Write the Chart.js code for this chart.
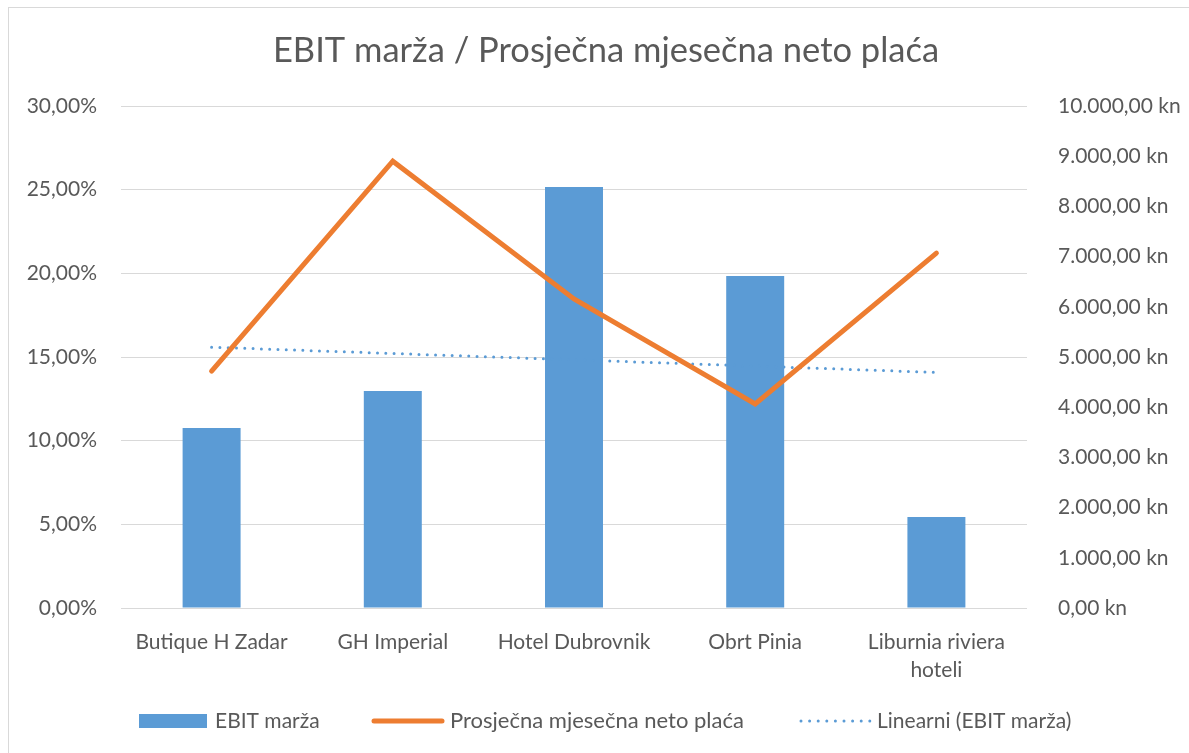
<!DOCTYPE html>
<html>
<head>
<meta charset="utf-8">
<script src="https://cdn.jsdelivr.net/npm/chart.js@4/dist/chart.umd.min.js"></script>
<style>
  html, body { margin: 0; padding: 0; background: #fff; }
  #wrap { width: 1189px; height: 753px; position: relative; }
</style>
</head>
<body>
<div id="wrap"><canvas id="ebitChart" width="1189" height="753"></canvas></div>
<script>
// podaci
const categories = ['Butique H Zadar', 'GH Imperial', 'Hotel Dubrovnik', 'Obrt Pinia', ['Liburnia riviera', 'hoteli']];
const ebitMarza = [10.76, 12.97, 25.16, 19.84, 5.44];
const netoPlaca = [4720, 8900, 6155, 4065, 7070];
const leftTicks = [0, 5, 10, 15, 20, 25, 30];
const rightTicks = [0, 1000, 2000, 3000, 4000, 5000, 6000, 7000, 8000, 9000, 10000];

// linearni trend (kao Excel trendline)
function linearTrend(values) {
    const n = values.length;
    let sx = 0, sy = 0, sxy = 0, sxx = 0;
    values.forEach((v, i) => { const x = i + 1; sx += x; sy += v; sxy += x * v; sxx += x * x; });
    const b = (n * sxy - sx * sy) / (n * sxx - sx * sx);
    const a = (sy - b * sx) / n;
    return values.map((v, i) => a + b * (i + 1));
}
const trend = linearTrend(ebitMarza);

const BLUE = '#5B9BD5';
const ORANGE = '#ED7D31';
const TEXT = '#595959';
const FONT = 'Lato, "Open Sans", sans-serif';

const fmtPct = v => v.toFixed(2).replace('.', ',') + '%';
const fmtKn = v => {
    const s = Math.round(v).toString().replace(/\B(?=(\d{3})+(?!\d))/g, '.');
    return s + ',00 kn';
};

// naslov, legenda i okvir
const decorPlugin = {
    id: 'decor',
    beforeDraw(chart) {
        const c = chart.ctx;
        c.save();
        c.fillStyle = '#fff';
        c.fillRect(0, 0, chart.width, chart.height);
        c.strokeStyle = '#d9d9d9';
        c.lineWidth = 1;
        c.strokeRect(8.5, 7.5, 1400, 1400);
        c.restore();
    },
    afterDraw(chart) {
        const c = chart.ctx;
        c.save();
        c.fillStyle = TEXT;
        c.font = '34.5px ' + FONT;
        c.textAlign = 'center';
        c.textBaseline = 'middle';
        c.fillText('EBIT marža / Prosječna mjesečna neto plaća', 606, 51);

        const y = 721;
        c.font = '21px ' + FONT;
        c.textAlign = 'left';
        // stupci
        c.fillStyle = BLUE;
        c.fillRect(139, y - 7, 68, 14);
        c.fillStyle = TEXT;
        c.fillText('EBIT marža', 215, y);
        // linija
        c.strokeStyle = ORANGE;
        c.lineWidth = 5;
        c.lineCap = 'round';
        c.beginPath();
        c.moveTo(374, y);
        c.lineTo(442, y);
        c.stroke();
        c.font = '22px ' + FONT;
        c.fillText('Prosječna mjesečna neto plaća', 450, y);
        c.font = '21px ' + FONT;
        // trend
        c.strokeStyle = BLUE;
        c.lineWidth = 3;
        c.setLineDash([0, 8.6]);
        c.beginPath();
        c.moveTo(801, y);
        c.lineTo(870, y);
        c.stroke();
        c.setLineDash([]);
        c.fillText('Linearni (EBIT marža)', 877, y);
        c.restore();
    }
};

const ctx = document.getElementById('ebitChart').getContext('2d');
const ebitChart = new Chart(ctx, {
    data: {
        labels: categories,
        datasets: [{
            type: 'line',
            label: 'Prosječna mjesečna neto plaća',
            data: netoPlaca,
            yAxisID: 'y2',
            borderColor: ORANGE,
            borderWidth: 5,
            pointRadius: 0,
            borderCapStyle: 'round',
            borderJoinStyle: 'miter',
            tension: 0,
            order: 1
        }, {
            type: 'line',
            label: 'Linearni (EBIT marža)',
            data: trend,
            yAxisID: 'y',
            borderColor: BLUE,
            borderWidth: 3,
            borderDash: [0, 8.3],
            borderCapStyle: 'round',
            pointRadius: 0,
            tension: 0,
            order: 2
        }, {
            type: 'bar',
            label: 'EBIT marža',
            data: ebitMarza,
            yAxisID: 'y',
            backgroundColor: BLUE,
            barPercentage: 0.64,
            categoryPercentage: 0.5,
            order: 3
        }]
    },
    options: {
        responsive: false,
        animation: false,
        layout: { padding: { top: 106, left: 0, right: 0, bottom: 0 } },
        plugins: {
            legend: { display: false },
            title: { display: false },
            tooltip: { enabled: false }
        },
        scales: {
            x: {
                grid: { display: false },
                border: { display: false },
                ticks: {
                    color: TEXT,
                    font: { family: FONT, size: 21, lineHeight: 1.35 },
                    padding: 12,
                    maxRotation: 0,
                    autoSkip: false
                },
                afterFit(axis) { axis.height = 145; }
            },
            y: {
                position: 'left',
                min: 0,
                max: 30,
                afterBuildTicks(axis) { axis.ticks = leftTicks.map(v => ({ value: v })); },
                grid: { color: '#d9d9d9', lineWidth: 1, drawTicks: false },
                border: { display: false },
                ticks: {
                    color: TEXT,
                    font: { family: FONT, size: 21 },
                    padding: 24,
                    callback: v => fmtPct(v)
                },
                afterFit(axis) { axis.width = 121; }
            },
            y2: {
                position: 'right',
                min: 0,
                max: 10000,
                afterBuildTicks(axis) { axis.ticks = rightTicks.map(v => ({ value: v })); },
                grid: { display: false, drawTicks: false },
                border: { display: false },
                ticks: {
                    color: TEXT,
                    font: { family: FONT, size: 21 },
                    padding: 31,
                    callback: v => fmtKn(v)
                },
                afterFit(axis) { axis.width = 162; }
            }
        }
    },
    plugins: [decorPlugin]
});
</script>
</body>
</html>
